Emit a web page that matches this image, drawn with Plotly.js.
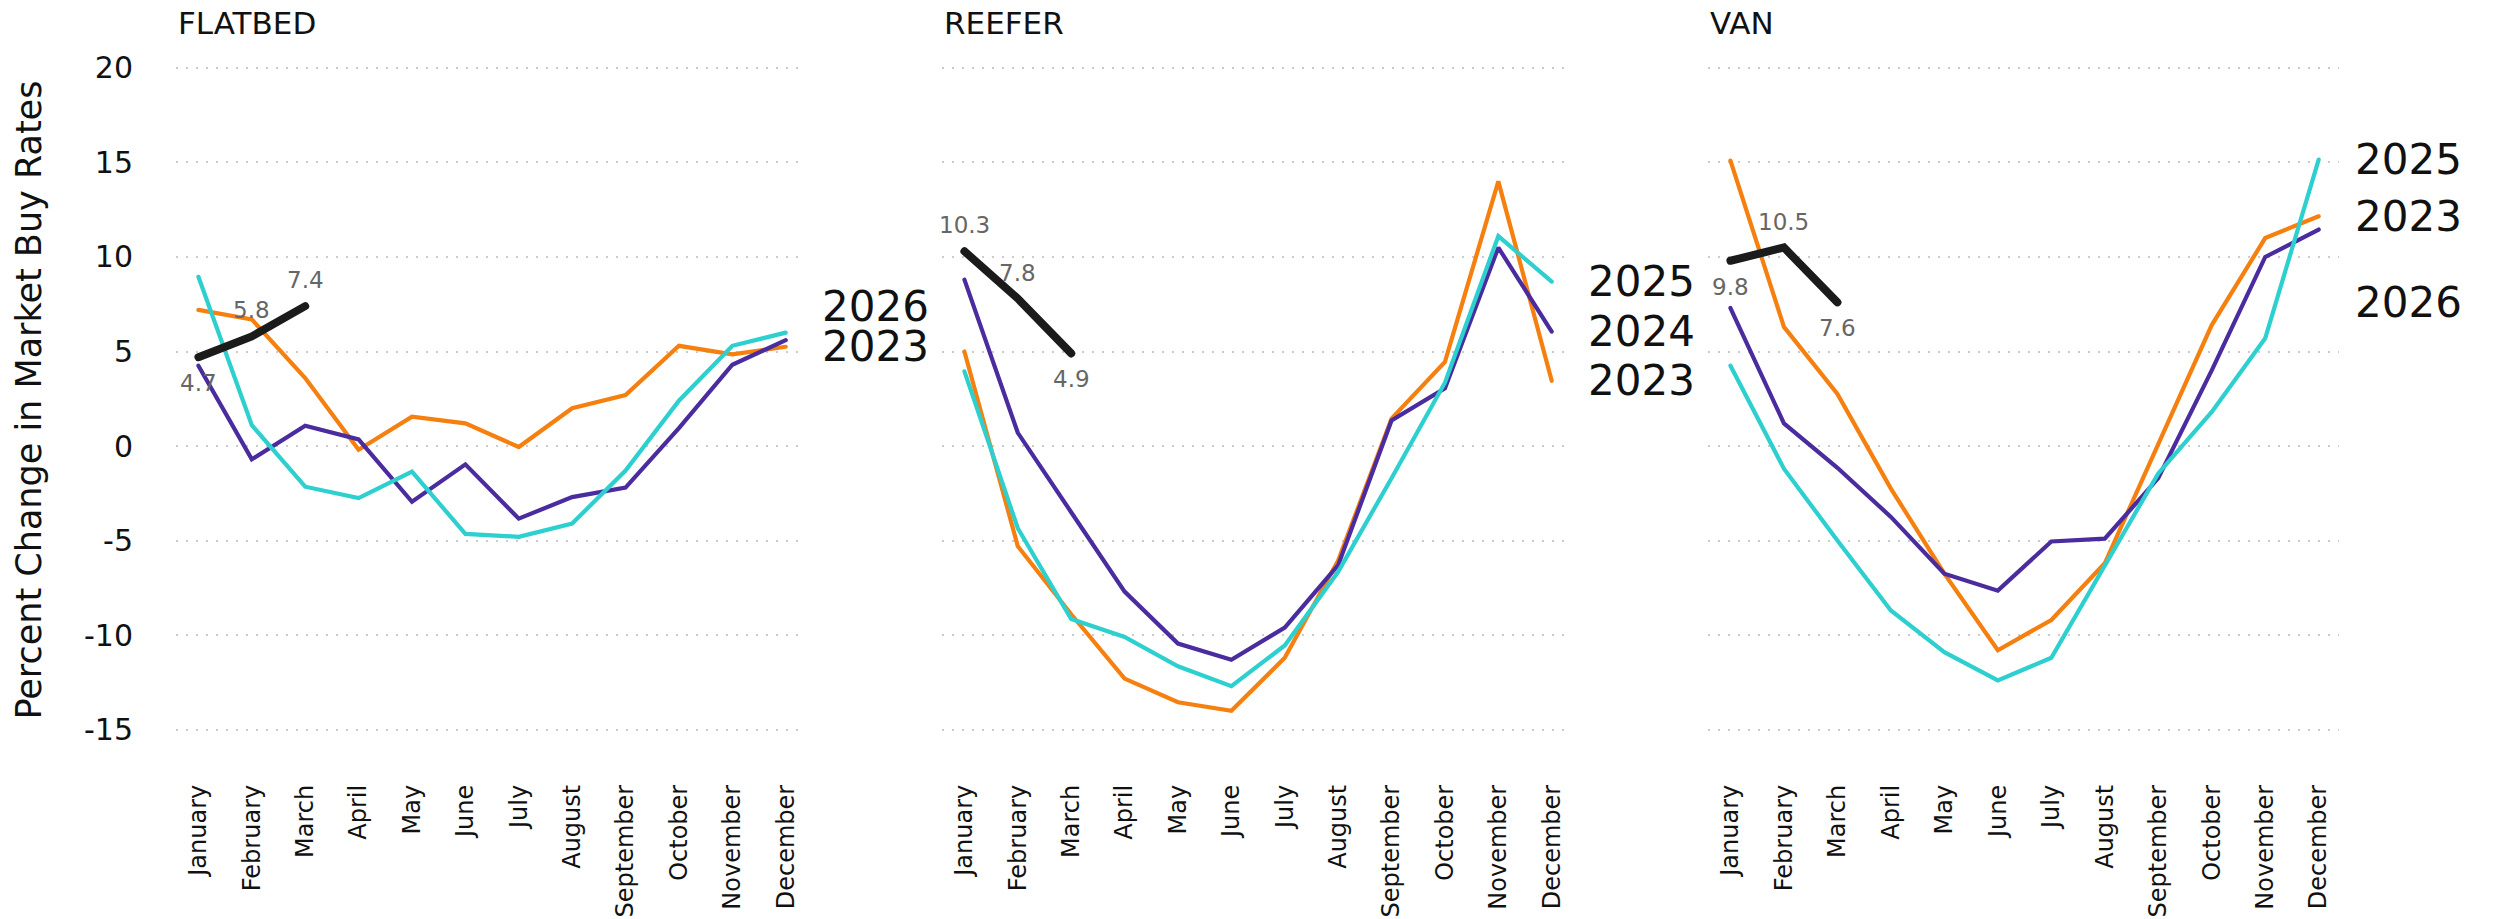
<!DOCTYPE html>
<html>
<head>
<meta charset="utf-8">
<script src="https://cdn.plot.ly/plotly-3.0.1.min.js"></script>
<style>
  html, body { margin: 0; padding: 0; background: #ffffff; overflow: hidden; }
  #chart { width: 2493px; height: 919px; }
  .js-line { stroke-linecap: round; }
</style>
</head>
<body>
<div id="chart"></div>
<script>
// ---------- data ----------
const months = ['January', 'February', 'March', 'April', 'May', 'June', 'July',
  'August', 'September', 'October', 'November', 'December'];
const years = ['2023', '2024', '2025', '2026'];
const panelTitles = ['FLATBED', 'REEFER', 'VAN'];
const yAxisTitle = 'Percent Change in Market Buy Rates';

const flatbed2023 = [7.2, 6.7, 3.6, -0.2, 1.55, 1.2, -0.05, 2.0, 2.7, 5.3, 4.85, 5.25];
const flatbed2024 = [4.25, -0.7, 1.07, 0.35, -2.95, -0.97, -3.84, -2.7, -2.2, 0.95, 4.3, 5.6];
const flatbed2025 = [8.95, 1.1, -2.15, -2.75, -1.35, -4.65, -4.8, -4.1, -1.3, 2.4, 5.3, 6.0];
const flatbed2026 = [4.7, 5.8, 7.4];

const reefer2023 = [5.0, -5.3, -8.9, -12.3, -13.55, -14.0, -11.2, -6.05, 1.45, 4.45, 14.0, 3.45];
const reefer2024 = [8.8, 0.7, -3.5, -7.7, -10.45, -11.3, -9.6, -6.3, 1.35, 3.05, 10.5, 6.05];
const reefer2025 = [3.95, -4.35, -9.15, -10.1, -11.65, -12.7, -10.55, -6.65, -1.7, 3.35, 11.1, 8.7];
const reefer2026 = [10.3, 7.8, 4.9];

const van2023 = [15.1, 6.3, 2.75, -2.25, -6.75, -10.8, -9.2, -6.2, 0.1, 6.4, 11.0, 12.15];
const van2024 = [7.3, 1.2, -1.15, -3.75, -6.75, -7.65, -5.05, -4.9, -1.7, 4.0, 10.0, 11.45];
const van2025 = [4.25, -1.2, -5.0, -8.7, -10.9, -12.4, -11.2, -6.3, -1.45, 1.8, 5.7, 15.15];
const van2026 = [9.8, 10.5, 7.6];

const yTickVals = [-15, -10, -5, 0, 5, 10, 15, 20];

// which end-of-line year labels are visible in each panel
const endLabelYears = [['2026', '2023'], ['2025', '2024', '2023'], ['2025', '2023', '2026']];
// placement of 2026 value labels (above / below the point)
const valueLabelSides = [['below', 'above', 'above'], ['above', 'above', 'below'], ['below', 'above', 'below']];

// ---------- styles ----------
const FONT = 'DejaVu Sans, Verdana, sans-serif';
const yearColors = { '2023': '#F5800F', '2024': '#4A2C9F', '2025': '#2DCFCF', '2026': '#1B1B1B' };
const yearWidths = { '2023': 4.2, '2024': 4.2, '2025': 4.2, '2026': 8 };

const panelSeries = [
  { '2023': flatbed2023, '2024': flatbed2024, '2025': flatbed2025, '2026': flatbed2026 },
  { '2023': reefer2023, '2024': reefer2024, '2025': reefer2025, '2026': reefer2026 },
  { '2023': van2023, '2024': van2024, '2025': van2025, '2026': van2026 }
];

const W = 2493;
const H = 919;
const M_TOP = 48.7;
const M_BOT = 174.8;
const domainsPx = [[176, 806], [942, 1572], [1708, 2339]];
const axisIds = ['', '2', '3'];

const traces = [];
const annotations = [];

panelSeries.forEach((series, p) => {
  const ax = axisIds[p];
  years.forEach(yr => {
    const vals = series[yr];
    traces.push({
      type: 'scatter',
      mode: 'lines',
      name: yr,
      x: months.slice(0, vals.length),
      y: vals,
      xaxis: 'x' + ax,
      yaxis: 'y' + ax,
      line: { color: yearColors[yr], width: yearWidths[yr] },
      showlegend: false,
      hoverinfo: 'x+y+name'
    });
  });

  // panel title
  annotations.push({
    xref: 'x' + ax + ' domain', yref: 'paper',
    x: 0, y: 1.037, xanchor: 'left', yanchor: 'middle',
    text: panelTitles[p], showarrow: false,
    font: { family: FONT, size: 31, color: '#111111' }
  });

  // end-of-line year labels
  endLabelYears[p].forEach(yr => {
    const vals = series[yr];
    annotations.push({
      xref: 'x' + ax + ' domain', yref: 'y' + ax,
      x: 1, y: vals[vals.length - 1], xanchor: 'left', yanchor: 'middle',
      xshift: 14,
      text: yr, showarrow: false,
      font: { family: FONT, size: 42, color: '#111111' }
    });
  });

  // value labels on the 2026 line
  series['2026'].forEach((v, i) => {
    const side = valueLabelSides[p][i];
    annotations.push({
      xref: 'x' + ax, yref: 'y' + ax,
      x: months[i], y: v, xanchor: 'center', yanchor: 'middle',
      yshift: side === 'above' ? 26 : -26,
      text: v.toFixed(1), showarrow: false,
      font: { family: FONT, size: 23, color: '#666666' }
    });
  });
});

// y axis title (placed as rotated text left of the first panel)
const plotH = H - M_TOP - M_BOT;
annotations.push({
  xref: 'paper', yref: 'paper',
  x: 29.5 / W, y: (H - M_BOT - 400) / plotH,
  xanchor: 'center', yanchor: 'middle',
  textangle: -90,
  text: yAxisTitle, showarrow: false,
  font: { family: FONT, size: 35, color: '#111111' }
});

const layout = {
  width: W,
  height: H,
  margin: { l: 0, r: 0, t: M_TOP, b: M_BOT, pad: 0 },
  paper_bgcolor: '#ffffff',
  plot_bgcolor: '#ffffff',
  showlegend: false,
  annotations: annotations,
  font: { family: FONT, color: '#111111' }
};

domainsPx.forEach((d, p) => {
  const ax = axisIds[p];
  layout['xaxis' + ax] = {
    domain: [d[0] / W, d[1] / W],
    anchor: 'y' + ax,
    type: 'category',
    categoryorder: 'array',
    categoryarray: months,
    range: [-0.42, 11.38],
    showgrid: false,
    zeroline: false,
    showline: false,
    ticks: '',
    tickangle: -90,
    ticklabelstandoff: 35,
    tickfont: { family: FONT, size: 24, color: '#111111' },
    fixedrange: true
  };
  layout['yaxis' + ax] = {
    anchor: 'x' + ax,
    range: [-15.76, 21],
    tickmode: 'array',
    tickvals: yTickVals,
    ticktext: yTickVals.map(v => String(v)),
    showticklabels: p === 0,
    ticks: '',
    ticklabelstandoff: 42,
    tickfont: { family: FONT, size: 30, color: '#111111' },
    showgrid: true,
    gridcolor: '#cccccc',
    gridwidth: 2,
    griddash: '2px,8px',
    zeroline: false,
    showline: false,
    fixedrange: true
  };
  if (p > 0) layout['yaxis' + ax].matches = 'y';
});

Plotly.newPlot('chart', traces, layout, { displayModeBar: false, staticPlot: true });
</script>
</body>
</html>
